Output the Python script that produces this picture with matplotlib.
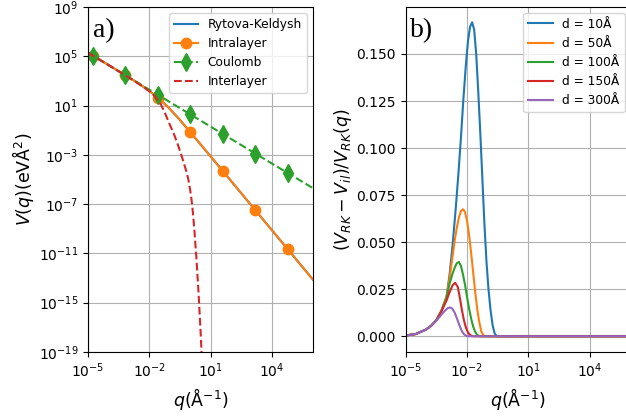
import matplotlib
matplotlib.use("Agg")
import matplotlib.pyplot as plt
import numpy as np

# panel a) -- log10(q) and log10(V)
q_rk = [-5, -4.77, -4.24, -3.71, -3.18, -2.65, -2.12, -1.59, -1.06, -0.53, 0,
        0.53, 1.06, 1.59, 2.12, 2.65, 3.18, 3.71, 4.24, 4.77, 5.30, 5.83, 6.0]
v_rk = [5.30, 5.07, 4.54, 4.01, 3.47, 2.93, 2.34, 1.66, 0.84, -0.12, -1.15,
        -2.20, -3.25, -4.31, -5.37, -6.43, -7.49, -8.55, -9.61, -10.67, -11.73,
        -12.79, -13.13]
marks_rk = [1, 4, 7, 10, 13, 16, 19]

q_coul = [-5, -4.77, -3.18, -1.59, 0, 1.59, 3.18, 4.77, 6.0]
v_coul = [5.30, 5.05, 3.47, 1.88, 0.29, -1.30, -2.89, -4.48, -5.70]

q_il = [-5, -4, -3, -2.5, -2, -1.75, -1.5, -1.25, -1.0, -0.8, -0.6, -0.4,
        -0.2, -0.1, 0.0, 0.05, 0.1, 0.15, 0.2, 0.3, 0.4, 0.5, 0.6]
v_il = [5.30, 4.30, 3.28, 2.75, 2.17, 1.80, 1.31, 0.45, -0.55, -1.3, -2.2,
        -3.2, -4.3, -4.95, -5.9, -6.5, -7.2, -8.1, -9.1, -11.4, -14.1, -17.2,
        -20.7]

# panel b) -- log10(q) and ratio for each layer distance
d_labels = ["d = 10Å", "d = 50Å", "d = 100Å", "d = 150Å", "d = 300Å"]
head_q = [-5, -4.5, -4.0, -3.75, -3.5, -3.25]
head_r = [0.0004, 0.0012, 0.0036, 0.0056, 0.0085, 0.0135]

q_d10 = head_q + [-3.0, -2.85, -2.7, -2.55, -2.42, -2.3, -2.18, -2.05, -1.95,
                  -1.85, -1.75, -1.65, -1.55, -1.45, -1.35, -1.25, -1.15, -1.05,
                  -0.95, -0.85, -0.75, -0.65, -0.55, -0.45, 6]
r_d10 = head_r + [0.021, 0.033, 0.049, 0.068, 0.0865, 0.105, 0.1255, 0.145,
                  0.157, 0.1645, 0.1668, 0.163, 0.150, 0.130, 0.108, 0.084,
                  0.060, 0.040, 0.025, 0.014, 0.006, 0.0015, 0.0002, 0, 0]

q_d50 = head_q + [-3.0, -2.85, -2.7, -2.6, -2.5, -2.4, -2.3, -2.19, -2.1, -2.0,
                  -1.9, -1.8, -1.7, -1.6, -1.5, -1.4, -1.3, -1.2, -1.1, 6]
r_d50 = head_r + [0.021, 0.031, 0.043, 0.051, 0.0575, 0.063, 0.0665, 0.0675,
                  0.066, 0.0615, 0.054, 0.0445, 0.034, 0.0235, 0.0145, 0.0075,
                  0.0025, 0.0005, 0, 0]

q_d100 = head_q + [-3.0, -2.85, -2.7, -2.6, -2.5, -2.4, -2.3, -2.2, -2.1, -2.0,
                   -1.9, -1.8, -1.7, -1.6, -1.5, -1.4, -1.3, 6]
r_d100 = head_r + [0.0205, 0.028, 0.0335, 0.0365, 0.0388, 0.0395, 0.0375,
                   0.033, 0.0275, 0.021, 0.0148, 0.0095, 0.0052, 0.0023,
                   0.0007, 0.0001, 0, 0]

q_d150 = head_q + [-3.0, -2.85, -2.7, -2.58, -2.45, -2.35, -2.25, -2.15, -2.05,
                   -1.95, -1.85, -1.75, -1.65, 6]
r_d150 = head_r[:-1] + [0.0133, 0.019, 0.0235, 0.0272, 0.0284, 0.0262, 0.0205,
                        0.014, 0.0085, 0.0045, 0.002, 0.0007, 0.0001, 0, 0]

q_d300 = [-5, -4.5, -4.3, -4.0, -3.75, -3.5, -3.3, -3.1, -2.95, -2.83, -2.72,
          -2.6, -2.48, -2.36, -2.24, -2.12, -2.0, -1.9, 6]
r_d300 = [0.0004, 0.0012, 0.0021, 0.0036, 0.0056, 0.0083, 0.0108, 0.0134,
          0.0149, 0.0153, 0.0147, 0.0125, 0.0091, 0.0055, 0.0025, 0.0008,
          0.0001, 0, 0]

fig = plt.figure(figsize=(6.26, 4.18), dpi=100)
ax1 = fig.add_axes([0.1406, 0.158, 0.3594, 0.825])
ax2 = fig.add_axes([0.648, 0.158, 0.3594, 0.826])

p = lambda a: 10.0 ** np.array(a)

ax1.plot(p(q_rk), p(v_rk), color="C0", lw=1.5, label="Rytova-Keldysh")
ax1.plot(p(q_rk), p(v_rk), color="C1", lw=1.5, marker="o", ms=7.5,
         markevery=marks_rk, label="Intralayer")
ax1.plot(p(q_coul), p(v_coul), color="C2", lw=1.5, ls="--", marker="d", ms=9,
         markevery=list(range(1, 8)), label="Coulomb")
ax1.plot(p(q_il), p(v_il), color="C3", lw=1.5, ls="--", label="Interlayer")
ax1.set_xscale("log")
ax1.set_yscale("log")
ax1.set_xlim(1e-5, 1e6)
ax1.set_ylim(1e-19, 1e9)
ax1.set_xticks([1e-5, 1e-2, 1e1, 1e4])
ax1.set_yticks([1e-19, 1e-15, 1e-11, 1e-7, 1e-3, 1e1, 1e5, 1e9])
ax1.xaxis.set_minor_locator(matplotlib.ticker.NullLocator())
ax1.yaxis.set_minor_locator(matplotlib.ticker.NullLocator())
ax1.tick_params(labelsize=10)
ax1.grid(True)
ax1.set_xlabel(r"$q$(Å$^{-1}$)", fontsize=12.5)
ax1.set_ylabel(r"$V(q)$(eVÅ$^2$)", fontsize=12.5, labelpad=2)
ax1.legend(loc="upper right", fontsize=8.8)
ax1.text(0.02, 0.968, "a)", transform=ax1.transAxes, ha="left", va="top",
         fontsize=20, family="Liberation Serif")

curves = [(q_d10, r_d10), (q_d50, r_d50), (q_d100, r_d100),
          (q_d150, r_d150), (q_d300, r_d300)]
for (qq, rr), lab in zip(curves, d_labels):
    ax2.plot(p(qq), rr, lw=1.5, label=lab)
ax2.set_xscale("log")
ax2.set_xlim(1e-5, 1e6)
ax2.set_xticks([1e-5, 1e-2, 1e1, 1e4])
ax2.xaxis.set_minor_locator(matplotlib.ticker.NullLocator())
ax2.set_yticks([0, 0.025, 0.05, 0.075, 0.1, 0.125, 0.15])
ax2.tick_params(labelsize=10)
ax2.grid(True)
ax2.set_xlabel(r"$q$(Å$^{-1}$)", fontsize=12.5)
ax2.set_ylabel(r"$(V_{RK}-V_{il})/V_{RK}(q)$", fontsize=12.5, labelpad=2)
ax2.legend(loc="upper right", fontsize=8.8)
ax2.text(0.02, 0.968, "b)", transform=ax2.transAxes, ha="left", va="top",
         fontsize=20, family="Liberation Serif")

fig.savefig("out.png", dpi=100)
